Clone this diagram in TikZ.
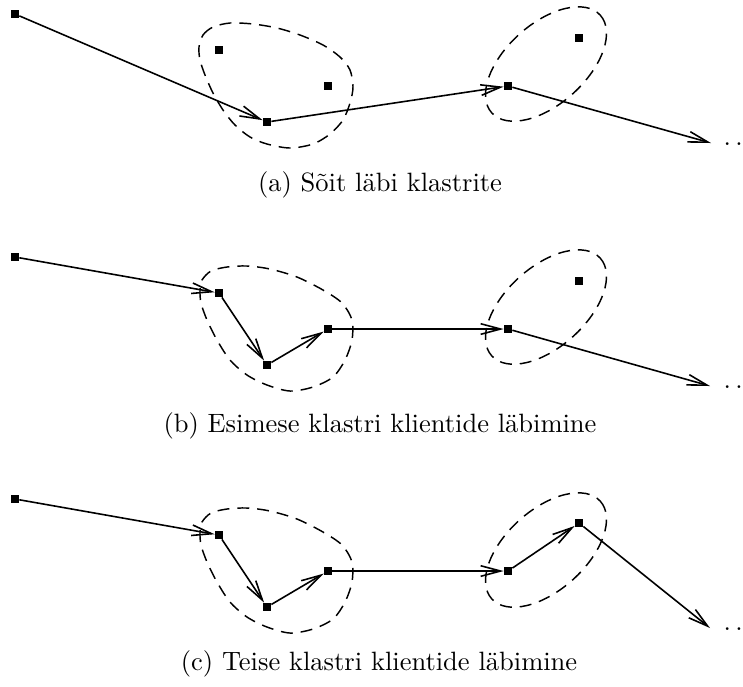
\documentclass[tikz,border=0pt]{standalone}
\usetikzlibrary{arrows.meta}
\begin{document}
\begin{tikzpicture}[x=0.37736pt,y=-0.37736pt,
  pt/.style={rectangle,fill=black,inner sep=0pt,minimum size=2.9pt},
  conn/.style={line width=0.6pt,-{Straight Barb[length=7.5pt,width=4pt,line width=0.6pt]}},
  cluster/.style={line width=0.55pt,dash pattern=on 4.5pt off 3pt},
  captext/.style={anchor=base,inner sep=0pt},
  dotsnode/.style={anchor=base west,inner sep=0pt}]
\useasboundingbox (0,0) rectangle (743,686);

% ---------- panel (a)
\node[pt] (a0) at (15,14) {};
\node[pt] (a1) at (219,50) {};
\node[pt] (a2) at (328,86) {};
\node[pt] (a3) at (267,122) {};
\node[pt] (a4) at (508,86) {};
\node[pt] (a5) at (579,38) {};
\coordinate (aend) at (711,143);
\node[dotsnode] (adots) at (723,145) {$\ldots$};
\draw[conn] (a0) -- (a3);
\draw[conn] (a3) -- (a4);
\draw[conn] (a4) -- (aend);
\draw[cluster] plot[smooth cycle] coordinates {(199,47) (203,35) (213,27) (230,23) (253,24) (277,28) (300,35) (323,45) (340,57) (350,70) (353,87) (350,103) (343,120) (330,134) (313,144) (290,148) (267,144) (250,137) (235,125) (223,110) (213,93) (205,75) (200,60)};
\draw[cluster] (546,64) ellipse [x radius=73, y radius=40, rotate=42];
\node[captext] (acap) at (380,191) {(a) Sõit läbi klastrite};

% ---------- panel (b)
\node[pt] (b0) at (15,257) {};
\node[pt] (b1) at (219,293) {};
\node[pt] (b2) at (267,365) {};
\node[pt] (b3) at (328,329) {};
\node[pt] (b4) at (508,329) {};
\node[pt] (b5) at (579,281) {};
\coordinate (bend) at (710,386);
\node[dotsnode] (bdots) at (723,388) {$\ldots$};
\draw[conn] (b0) -- (b1);
\draw[conn] (b1) -- (b2);
\draw[conn] (b2) -- (b3);
\draw[conn] (b3) -- (b4);
\draw[conn] (b4) -- (bend);
\draw[cluster] plot[smooth cycle] coordinates {(200,290) (202,280) (211,271) (227,267) (247,266) (270,269) (297,277) (323,290) (342,303) (352,320) (352,340) (345,360) (333,377) (313,387) (290,391) (267,385) (247,375) (230,360) (217,340) (207,320) (201,303)};
\draw[cluster] (546,307) ellipse [x radius=73, y radius=40, rotate=42];
\node[captext] (bcap) at (380,432) {(b) Esimese klastri klientide läbimine};

% ---------- panel (c)
\node[pt] (c0) at (15,499) {};
\node[pt] (c1) at (219,535) {};
\node[pt] (c2) at (267,607) {};
\node[pt] (c3) at (328,571) {};
\node[pt] (c4) at (508,571) {};
\node[pt] (c5) at (579,523) {};
\coordinate (cend) at (710,628);
\node[dotsnode] (cdots) at (723,630) {$\ldots$};
\draw[conn] (c0) -- (c1);
\draw[conn] (c1) -- (c2);
\draw[conn] (c2) -- (c3);
\draw[conn] (c3) -- (c4);
\draw[conn] (c4) -- (c5);
\draw[conn] (c5) -- (cend);
\begin{scope}[shift={(0,242)}]
\draw[cluster] plot[smooth cycle] coordinates {(200,290) (202,280) (211,271) (227,267) (247,266) (270,269) (297,277) (323,290) (342,303) (352,320) (352,340) (345,360) (333,377) (313,387) (290,391) (267,385) (247,375) (230,360) (217,340) (207,320) (201,303)};
\end{scope}
\draw[cluster] (546,550) ellipse [x radius=73, y radius=40, rotate=42];
\node[captext] (ccap) at (379,670) {(c) Teise klastri klientide läbimine};
\end{tikzpicture}
\end{document}
